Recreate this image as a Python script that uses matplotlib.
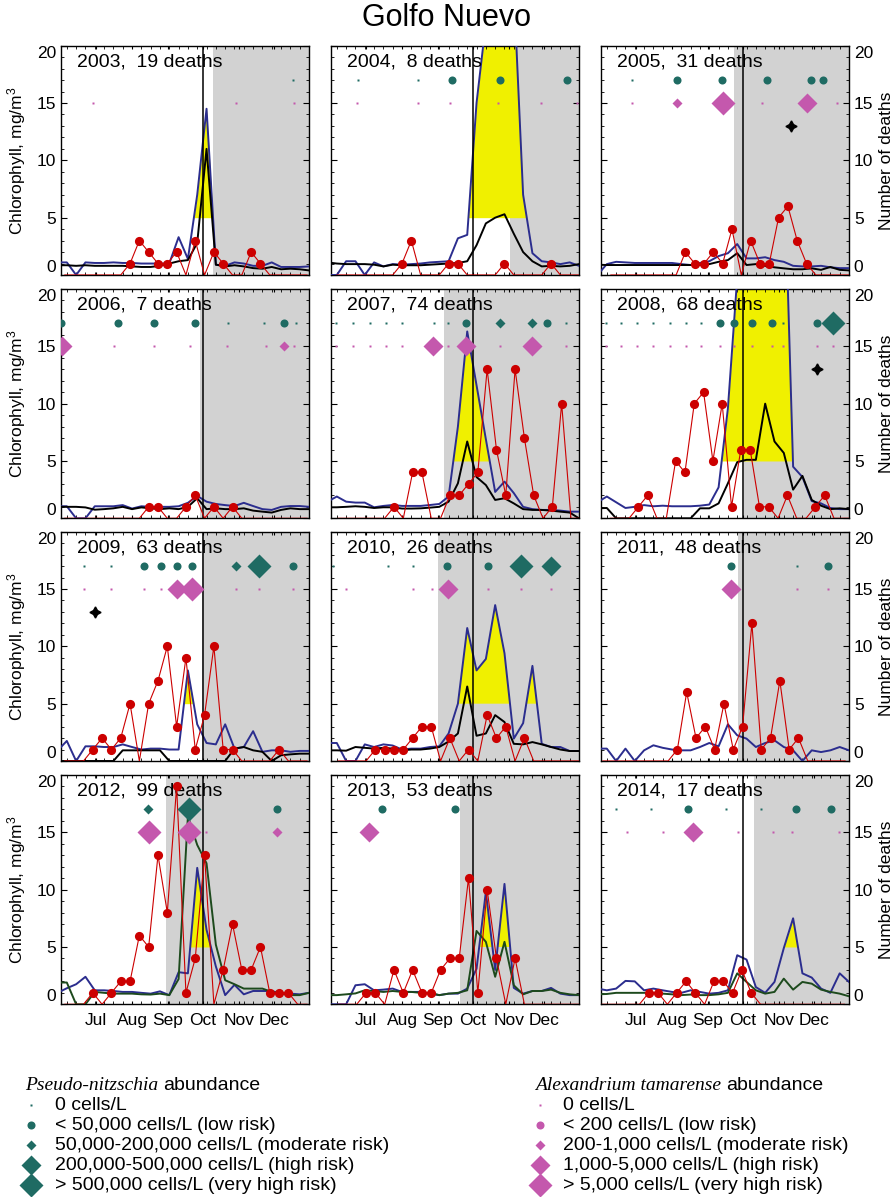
import numpy as np
import matplotlib
matplotlib.use('Agg')
import matplotlib.pyplot as plt

plt.rcParams['font.family'] = ['Liberation Sans', 'DejaVu Sans']
plt.rcParams['mathtext.fontset'] = 'custom'
plt.rcParams['mathtext.rm'] = 'Liberation Sans'
plt.rcParams['mathtext.it'] = 'Liberation Sans:italic'

# ---------------- data ----------------
YEARS = [2003, 2004, 2005, 2006, 2007, 2008, 2009, 2010, 2011, 2012, 2013, 2014]
DEATHS_TOTAL = {2003: 19, 2004: 8, 2005: 31, 2006: 7, 2007: 74, 2008: 68,
                2009: 63, 2010: 26, 2011: 48, 2012: 99, 2013: 53, 2014: 17}

# chlorophyll, 8-day composites starting day-of-year 149
CHL_DOY = [149 + 8 * i for i in range(28)]
BLUE = {
    2003: [1.1, 1.1, 0, 1.1, 1.05, 1.05, 1.1, 1.05, 1.05, 1.0, 1.0, 1.0, 1.0, 3.3, 1.4, 7.0, 14.5, 0.9, 0.8, 1.1, 1.0, 0.8, 0.8, 1.1, 0.7, 0.7, 0.7, 0.75],
    2004: [0, 0, 1.2, 1.2, 0, 1.1, 0.75, 0.95, 0.9, 0.95, 1.0, 1.1, 1.15, 1.2, 3.2, 3.5, 15, 22, 30, 30, 25, 7.0, 1.9, 1.2, 1.1, 0.95, 1.1, 0.8],
    2005: [0, 0.95, 1.15, 1.1, 1.05, 1.05, 1.05, 1.05, 1.05, 0.95, 0.87, 1.05, 1.2, 1.65, 1.9, 2.7, 1.45, 1.45, 1.55, 1.3, 1.15, 0.8, 0.75, 0.75, 0.8, 0.67, 0.6, 0.6],
    2006: [1.05, 1.05, 0, 0, 1.05, 1.05, 1.05, 1.15, 0.85, 1.05, 1.0, 1.0, 1.0, 1.05, 1.35, 1.95, 1.45, 1.25, 1.15, 1.07, 1.35, 1.07, 0.8, 0.73, 1.0, 1.07, 1.07, 1.0],
    2007: [1.45, 1.9, 1.45, 1.37, 1.37, 0.96, 1.08, 1.16, 1.08, 1.08, 1.08, 1.16, 1.25, 1.9, 8.0, 16.3, 11.6, 6.9, 2.3, 3.2, 2.2, 1.0, 0.8, 0.73, 0.73, 0.67, 0.58, 0.58],
    2008: [1.4, 1.9, 1.4, 0.9, 1.0, 1.15, 1.05, 1.1, 1.05, 1.05, 1.05, 1.1, 1.2, 2.7, 9.6, 21, 30, 30, 30, 30, 32, 4.5, 3.6, 1.5, 1.3, 0.9, 0.8, 0.8],
    2009: [0.9, 1.75, 0, 1.28, 1.28, 1.22, 1.22, 1.45, 1.22, 1.0, 1.08, 1.08, 1.0, 1.0, 7.9, 3.2, 1.57, 1.45, 3.2, 1.08, 1.22, 2.6, 0.8, 0.93, 0.93, 0.8, 0.88, 0.88],
    2010: [1.57, 1.57, 0, 0, 1.45, 1.22, 1.45, 1.35, 1.0, 1.08, 1.08, 1.22, 1.28, 2.4, 5.0, 11.6, 7.9, 8.9, 13.6, 9.4, 1.95, 3.3, 8.3, 1.5, 1.22, 1.22, 0.87, 0.87],
    2011: [1.08, 1.08, 0, 1.08, 0, 0.93, 1.37, 1.15, 1.0, 0.93, 0.93, 1.22, 1.57, 1.28, 3.2, 2.24, 1.95, 1.22, 1.57, 1.8, 1.22, 0.93, 0, 0.93, 0.78, 0.93, 1.22, 0.93],
    2012: [1.0, 1.4, 1.75, 2.4, 1.22, 1.22, 1.16, 1.08, 1.08, 1.0, 0.93, 1.13, 0.8, 2.8, 2.7, 11.9, 6.5, 3.3, 0.8, 1.7, 0.87, 1.16, 1.16, 1.16, 0.93, 0.93, 0.87, 1.0],
    2013: [0, 0, 0, 1.66, 1.75, 1.22, 1.28, 1.37, 1.08, 1.08, 1.08, 0.93, 0.8, 0.93, 0.93, 1.37, 3.1, 9.8, 3.0, 10.5, 1.43, 0.93, 1.16, 1.16, 1.43, 0.93, 0.8, 0.8],
    2014: [1.37, 1.22, 1.37, 2.04, 2.0, 1.22, 1.37, 1.22, 1.08, 1.0, 1.22, 1.08, 0.93, 1.0, 1.22, 4.28, 3.9, 1.5, 1.0, 1.95, 4.9, 7.5, 2.7, 2.33, 1.37, 1.0, 2.7, 1.95],
}
BLACK = {
    2003: [0.85, 0.85, 0.8, 0.85, 0.8, 0.8, 0.8, 0.8, 0.75, 0.7, 0.7, 0.8, 1.0, 1.2, 1.3, 2.8, 11.0, 0.9, 0.75, 0.85, 0.75, 0.6, 0.55, 0.7, 0.5, 0.55, 0.5, 0.4],
    2004: [1.1, 1.0, 0.95, 0.95, 0.95, 0.9, 0.75, 0.9, 0.85, 0.85, 0.85, 0.9, 0.95, 1.0, 1.05, 1.2, 2.6, 4.5, 5.0, 5.3, 3.6, 2.0, 1.2, 0.75, 0.8, 0.75, 0.8, 0.95],
    2005: [0.9, 0.87, 0.87, 0.87, 0.87, 0.87, 0.87, 0.87, 0.87, 0.87, 0.87, 0.87, 0.95, 1.15, 1.3, 1.9, 0.87, 0.95, 0.8, 0.67, 0.58, 0.5, 0.5, 0.58, 0.45, 0.7, 0.45, 0.4],
    2006: [1.0, 1.0, 1.0, 0.95, 0.75, 0.8, 0.87, 1.0, 0.8, 0.95, 0.87, 0.8, 0.87, 0.8, 1.0, 1.75, 0.8, 0.87, 0.8, 0.8, 0.87, 0.67, 0.58, 0.5, 0.73, 0.87, 0.8, 0.8],
    2007: [0.96, 0.96, 1.0, 1.05, 1.0, 0.9, 0.96, 0.96, 0.85, 0.85, 0.87, 0.93, 1.0, 1.45, 3.05, 6.7, 3.6, 2.9, 1.6, 1.75, 1.3, 0.8, 0.73, 0.73, 0.67, 0.58, 0.5, 0.0],
    2008: [0.87, 0.9, 0, 0, 0, 0, 0, 0, 0, 0, 0, 0.87, 0.87, 1.3, 3.05, 4.9, 5.1, 5.1, 10.0, 6.7, 5.7, 2.5, 3.7, 1.6, 1.1, 0.8, 0.87, 0.8],
    2009: [0, 0, 0, 0, 0, 0, 0, 0.93, 0.93, 0.93, 0.93, 0.93, 0, 0, 0, 0, 0, 0, 0, 1.08, 1.22, 0.93, 0.8, 0, 0.5, 0.58, 0.64, 0.64],
    2010: [0.93, 0.93, 0.9, 1.22, 1.15, 1.08, 1.15, 1.08, 0.93, 1.0, 1.0, 1.08, 1.22, 1.7, 2.4, 6.5, 2.2, 2.4, 4.0, 3.4, 1.5, 1.45, 1.65, 1.45, 1.22, 1.0, 0.87, 0.87],
}
GREEN = {
    2012: [1.9, 1.9, 0, 0, 1.08, 1.0, 0.93, 0.93, 0.93, 0.87, 0.85, 0.93, 0.8, 2.2, 16.4, 13.9, 12.3, 5.2, 2.1, 1.75, 1.37, 1.37, 1.37, 1.08, 0.93, 0.8, 0.8, 1.0],
    2013: [0.8, 0.8, 0.87, 0.95, 1.22, 1.16, 1.08, 1.16, 1.08, 1.08, 1.0, 1.0, 0.8, 0.93, 1.0, 1.22, 6.4, 5.45, 2.4, 5.45, 1.66, 0.87, 1.16, 1.16, 1.28, 1.0, 0.87, 0.8],
    2014: [0.87, 0.9, 1.0, 1.0, 1.0, 1.0, 1.0, 0.93, 0.87, 0.8, 0.85, 0.8, 0.8, 0.87, 1.0, 2.7, 1.95, 1.22, 0.93, 1.08, 2.24, 1.28, 1.95, 1.8, 1.28, 1.08, 0.93, 0.7],
}

# whale deaths per 8-day bin, first bin day-of-year per year
DEATHS_START = {2003: 155.3, 2004: 157, 2005: 160.5, 2006: 155.3, 2007: 158.1, 2008: 160.1,
                2009: 155.3, 2010: 158.1, 2011: 153.6, 2012: 155.3, 2013: 158.1, 2014: 153}
DEATHS = {
    2003: [0, 0, 0, 0, 0, 0, 0, 1, 3, 2, 1, 1, 2, 0, 3, 0, 2, 1, 0, 0, 2, 1, 0, 0, 0, 0, 0],
    2004: [0, 0, 0, 0, 0, 0, 0, 1, 3, 0, 0, 0, 1, 1, 0, 0, 0, 0, 1, 0, 0, 0, 0, 1, 0, 0, 0],
    2005: [0, 0, 0, 0, 0, 0, 0, 0, 2, 1, 1, 2, 1, 4, 0, 3, 1, 1, 5, 6, 3, 1, 0, 0, 0, 0, 0],
    2006: [0, 0, 0, 0, 0, 0, 0, 0, 0, 1, 1, 0, 0, 1, 2, 0, 1, 0, 1, 0, 0, 0, 0, 0, 0, 0, 0],
    2007: [0, 0, 0, 0, 0, 0, 1, 0, 4, 4, 0, 0, 2, 2, 3, 4, 13, 6, 2, 13, 7, 2, 0, 1, 10, 0, 0],
    2008: [0, 0, 0, 1, 2, 0, 0, 5, 4, 10, 11, 5, 10, 1, 6, 6, 1, 1, 0, 2, 0, 0, 1, 2, 0, 0, 0],
    2009: [0, 0, 0, 1, 2, 1, 2, 5, 0, 5, 7, 10, 3, 9, 1, 4, 10, 1, 1, 0, 0, 0, 0, 1, 0, 0, 0],
    2010: [0, 0, 0, 0, 1, 1, 1, 1, 2, 3, 3, 0, 2, 0, 1, 0, 4, 2, 3, 0, 2, 0, 0, 0, 0, 0, 0],
    2011: [0, 0, 0, 0, 0, 0, 0, 0, 1, 6, 2, 3, 1, 5, 1, 3, 12, 1, 2, 7, 1, 2, 0, 0, 0, 0, 0],
    2012: [0, 0, 0, 1, 0, 1, 2, 2, 6, 5, 13, 8, 19, 1, 4, 13, 0, 3, 7, 3, 3, 5, 1, 1, 1, 0, 0],
    2013: [0, 0, 0, 1, 1, 0, 3, 1, 3, 1, 1, 3, 4, 4, 11, 1, 10, 4, 0, 4, 0, 0, 0, 0, 0, 0, 0],
    2014: [0, 0, 0, 0, 0, 1, 1, 0, 1, 2, 1, 0, 2, 2, 1, 3, 1, 0, 0, 0, 0, 0, 0, 0, 0, 0, 0],
}

GRAY_START = {2003: 282.6, 2004: 305.8, 2005: 266.3, 2006: 271.4, 2007: 249.1, 2008: 275,
              2009: 272.8, 2010: 244.2, 2011: 270, 2012: 242.2, 2013: 262.8, 2014: 283.4}

# (day of year, abundance class 0..4)
PN_MARKS = {
    2003: [(351, 0)],
    2004: [(175.5, 0), (227, 0), (256.2, 1), (297.2, 1), (354.5, 1)],
    2005: [(178.9, 0), (217, 1), (256.2, 1), (294.3, 1), (332.1, 1), (342.4, 1)],
    2006: [(152, 1), (201, 1), (231.9, 1), (267.4, 1), (295.2, 0), (326.7, 0), (343.6, 1), (353.9, 0)],
    2007: [(156.3, 0), (171.2, 0), (185.5, 0), (199.3, 0), (213.3, 0), (240.8, 0), (252.8, 0),
           (267.7, 1), (297.2, 2), (325, 2), (337.3, 1), (353.6, 0)],
    2008: [(156.3, 0), (169.2, 0), (182.6, 0), (196.4, 0), (211.3, 0), (225, 0), (237.9, 0),
           (254.2, 1), (266.3, 1), (281.4, 1), (298.6, 1), (308.6, 0), (337.3, 1), (351, 4)],
    2009: [(172, 0), (195, 0), (223.3, 1), (237.9, 1), (251.4, 1), (264.8, 1), (302.3, 2), (322.4, 4), (351, 1)],
    2010: [(153.4, 0), (201.3, 0), (222.2, 0), (252, 1), (287.2, 1), (315.2, 4), (341, 3)],
    2011: [(263.4, 1), (320.7, 0), (347.3, 1)],
    2012: [(227, 2), (262.3, 4), (337.3, 1)],
    2013: [(195.8, 1), (258.2, 1)],
    2014: [(164.9, 0), (195, 0), (227, 1), (259.4, 0), (289.5, 0), (319.5, 1), (349.3, 1)],
}
AT_MARKS = {
    2003: [(179.8, 0), (302.3, 0), (352.2, 0)],
    2004: [(174, 0), (227, 0), (254.2, 0), (295.2, 0), (332.4, 0), (363, 0)],
    2005: [(178.9, 0), (217.6, 2), (257.1, 4), (290, 0), (328.7, 3), (354.5, 0)],
    2006: [(152.5, 3), (197.8, 0), (231.9, 0), (262.8, 0), (294.3, 0), (328.1, 0), (343.6, 2), (352.2, 0)],
    2007: [(156.3, 0), (171.2, 0), (185.5, 0), (199.3, 0), (213.3, 0), (239.9, 3), (252.8, 0),
           (267.7, 3), (297.2, 0), (325, 3), (353.6, 0)],
    2008: [(156.3, 0), (169.2, 0), (182.6, 0), (196.4, 0), (211.3, 0), (225, 0), (237.9, 0),
           (254.2, 0), (266.3, 0), (281.4, 0), (298.6, 0), (308.6, 0), (337.3, 0), (351, 0)],
    2009: [(172, 0), (195, 0), (223.3, 0), (237.9, 0), (251.4, 3), (264.8, 4), (302.3, 0), (322.4, 0), (351, 0)],
    2010: [(164.9, 0), (222.2, 0), (238.5, 0), (252.2, 3), (287.2, 0), (315.2, 0), (341, 0)],
    2011: [(263.4, 3), (320.7, 0), (347.3, 0)],
    2012: [(227.3, 4), (262, 4), (276.6, 0), (337.3, 2)],
    2013: [(185, 3)],
    2014: [(174, 0), (205, 0), (231.3, 3), (269.4, 0), (300, 0), (316.4, 0), (356.5, 0)],
}
STARS = {2005: 315.2, 2008: 337.3, 2009: 181.2}

MONTHS = ['Jul', 'Aug', 'Sep', 'Oct', 'Nov', 'Dec']
MONTH_DOY = [182, 213, 244, 274, 305, 335]

PN_LABELS = ['0 cells/L', '< 50,000 cells/L (low risk)', '50,000-200,000 cells/L (moderate risk)',
             '200,000-500,000 cells/L (high risk)', '> 500,000 cells/L (very high risk)']
AT_LABELS = ['0 cells/L', '< 200 cells/L (low risk)', '200-1,000 cells/L (moderate risk)',
             '1,000-5,000 cells/L (high risk)', '> 5,000 cells/L (very high risk)']

# ---------------- style ----------------
BLUE_C = '#2b2d8e'
GREEN_C = '#1d4a1d'
RED_C = '#cc0000'
YELLOW_C = '#f0f000'
GRAY_C = '#d2d2d2'
TEAL_C = '#1f6b63'
MAG_C = '#c458ad'
MARKER_STYLE = {0: ('s', 1.6), 1: ('o', 5.8), 2: ('D', 4.8), 3: ('D', 9.8), 4: ('D', 12.3)}

W, H = 894, 1197
COL_LEFT = [61, 331, 601]
ROW_TOP = [45.7, 289, 531.7, 775]
PW, PH = 248, 229.3

fig = plt.figure(figsize=(W / 100, H / 100), dpi=100)
fig.text(0.5, 1 - 18 / H, 'Golfo Nuevo', ha='center', va='center', fontsize=22)

for i, year in enumerate(YEARS):
    row, col = divmod(i, 3)
    ax = fig.add_axes([COL_LEFT[col] / W, 1 - (ROW_TOP[row] + PH) / H, PW / W, PH / H])

    ax.axvspan(GRAY_START[year], 400, color=GRAY_C, lw=0, zorder=0)
    chl_x = np.array(CHL_DOY)
    blue = np.array(BLUE[year])
    ax.fill_between(chl_x, 5, blue, where=blue >= 5, interpolate=True,
                    color=YELLOW_C, lw=0, zorder=1)
    ax.plot(chl_x, blue, color=BLUE_C, lw=1.4, zorder=3)
    if year in BLACK:
        ax.plot(chl_x, BLACK[year], color='black', lw=1.4, zorder=3)
    if year in GREEN:
        ax.plot(chl_x, GREEN[year], color=GREEN_C, lw=1.4, zorder=3)
    ax.axvline(274, color='black', lw=1.1, zorder=4)

    d = np.array(DEATHS[year])
    dx = DEATHS_START[year] + 8 * np.arange(len(d))
    ax.plot(dx, d, color=RED_C, lw=0.8, zorder=5)
    nz = d > 0
    ax.plot(dx[nz], d[nz], 'o', color=RED_C, ms=6.6, mec='none', zorder=6)

    for doy, cat in PN_MARKS[year]:
        m, s = MARKER_STYLE[cat]
        ax.plot([doy], [17], marker=m, ms=s, color=TEAL_C, mec='none', ls='none', zorder=6)
    for doy, cat in AT_MARKS[year]:
        m, s = MARKER_STYLE[cat]
        ax.plot([doy], [15], marker=m, ms=s, color=MAG_C, mec='none', ls='none', zorder=6)
    if year in STARS:
        ax.plot([STARS[year]], [13], marker=(4, 1, 0), ms=8, color='black', ls='none', zorder=6)

    ax.text(0.065, 0.929, f'{year},  {DEATHS_TOTAL[year]} deaths', transform=ax.transAxes,
            fontsize=14, va='center', ha='left', zorder=4.5)

    ax.set_xlim(152, 365)
    ax.set_ylim(0, 20)
    ax.set_yticks([0, 5, 10, 15, 20])
    ax.set_yticks(np.arange(0, 21, 1), minor=True)
    ax.set_xticks(MONTH_DOY)
    ax.set_xticklabels(MONTHS)
    ax.set_xticks(np.arange(157, 366, 8), minor=True)
    ax.tick_params(which='both', direction='in', top=True, right=True, labelsize=12.5,
                   labelleft=(col == 0), labelright=(col == 2), labelbottom=(row == 3))
    ax.tick_params(axis='y', which='major', length=4.5)
    ax.tick_params(axis='y', which='minor', length=2.5)
    ax.tick_params(axis='x', which='both', length=2.5, pad=6)
    for sp in ax.spines.values():
        sp.set_linewidth(1.0)

    # keep the end labels inside the frame, as in the original
    ticks = ax.yaxis.get_major_ticks()
    ticks[0].label1.set_va('bottom')
    ticks[0].label2.set_va('bottom')
    ticks[-1].label1.set_va('top')
    ticks[-1].label2.set_va('top')

    if col == 0:
        ax.set_ylabel('Chlorophyll, mg/m$^3$', fontsize=12.5, labelpad=6)
    if col == 2:
        ax.yaxis.set_label_position('right')
        ax.set_ylabel('Number of deaths', fontsize=12.5, labelpad=4)

# ---------------- legend ----------------
lax = fig.add_axes([0, 0, 1, 1])
lax.set_xlim(0, W)
lax.set_ylim(H, 0)
lax.axis('off')

renderer = fig.canvas.get_renderer()
for x0, name in [(25, 'Pseudo-nitzschia'), (535, 'Alexandrium tamarense')]:
    t = lax.text(x0, 1085, name, family='Liberation Serif', style='italic',
                 fontsize=14, va='center', ha='left')
    x1 = lax.transData.inverted().transform(t.get_window_extent(renderer))[1][0]
    lax.text(x1 + 5, 1085, 'abundance', fontsize=14, va='center', ha='left')

row_y = [1105, 1125, 1145, 1165, 1185]
for cat in range(5):
    m, s = MARKER_STYLE[cat]
    y = row_y[cat]
    lax.plot([31], [y], marker=m, ms=s, color=TEAL_C, mec='none', ls='none')
    lax.text(55, y, PN_LABELS[cat], fontsize=14, va='center', ha='left')
    lax.plot([540], [y], marker=m, ms=s, color=MAG_C, mec='none', ls='none')
    lax.text(563, y, AT_LABELS[cat], fontsize=14, va='center', ha='left')

fig.savefig('out.png', dpi=100)
